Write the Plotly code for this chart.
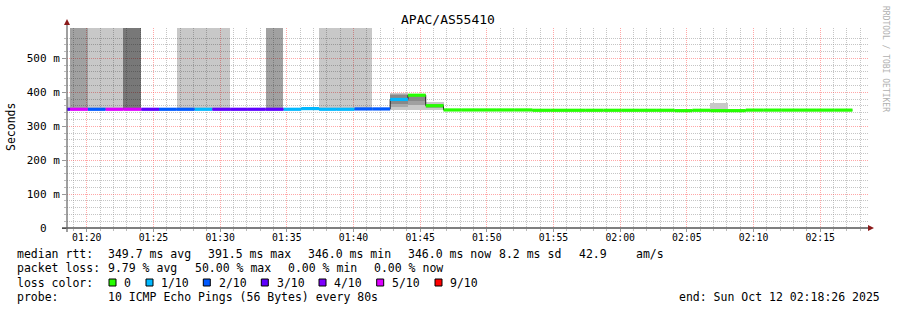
import plotly.graph_objects as go
import pandas as pd

# ---------------- data ----------------
STEP_S = 80                                   # probe interval (s)
FIRST_STEP = "2025-10-12 01:17:25"            # start of first (partial) step
X_RANGE = ["2025-10-12 01:18:31", "2025-10-12 02:18:35"]

# median rtt per 80 s step (ms)
median_ms = [350,                                    # partial step
             350, 350, 350, 350, 350, 350, 350, 350, 350, 350,
             350, 350, 350, 352, 350, 350, 351, 351, 379, 391.5,
             360.5, 348, 348, 348, 348, 348, 347, 347, 347, 347,
             347, 347, 347, 347, 346, 347, 346, 346, 347.5, 347.5,
             347.5, 347.5, 347.5, 347.5]
# lost pings (of 10) per step
loss_count = [3,
              5, 2, 5, 5, 3, 2, 2, 1, 3, 3,
              3, 3, 1, 1, 1, 1, 2, 2, 1, 0,
              0, 0, 0, 0, 0, 0, 0, 0, 0, 0,
              0, 0, 0, 0, 0, 0, 0, 0, 0, 0,
              0, 0, 0, 0]
# full-height loss smoke shade per step (0 none, 1 light, 2 medium, 3 dark)
loss_shade = [0,
              2, 1, 1, 3, 0, 0, 1, 1, 1, 0,
              0, 2, 0, 0, 1, 1, 1, 0, 0, 0,
              0, 0, 0, 0, 0, 0, 0, 0, 0, 0,
              0, 0, 0, 0, 0, 0, 0, 0, 0, 0,
              0, 0, 0, 0]
# ping smoke bands: step index, low (ms), high (ms), grey level
smoke_step = [0, 19, 19, 19, 20, 20, 20, 21, 21, 37]
smoke_lo = [350, 349, 358, 366, 349, 362, 375, 349, 355, 350]
smoke_hi = [385, 398, 396, 392, 394, 393, 392, 372, 366, 368]
smoke_grey = ["#cfcfcf", "#c8c8c8", "#a8a8a8", "#888888", "#c8c8c8", "#a0a0a0",
              "#888888", "#c8c8c8", "#a0a0a0", "#c8c8c8"]

loss_levels = [0, 1, 2, 3, 4, 5, 9]
loss_labels = ["0", "1/10", "2/10", "3/10", "4/10", "5/10", "9/10"]
loss_colors = ["#26ff00", "#00b8ff", "#0059ff", "#5e00ff", "#7e00ff", "#dd00ff", "#ff0000"]
shade_rgba = {1: "rgba(0,0,0,0.215)", 2: "rgba(0,0,0,0.37)", 3: "rgba(0,0,0,0.53)"}

y_tickvals = [0, 100, 200, 300, 400, 500]
y_ticktext = ["\u00a0\u00a00\u00a0\u00a0", "100 m", "200 m", "300 m", "400 m", "500 m"]
Y_MAX = 589.6

title = "APAC/AS55410"
stats_rtt = ["median rtt:", "349.7 ms avg", "391.5 ms max", "346.0 ms min",
             "346.0 ms now", "8.2 ms sd", "42.9", "am/s"]
stats_loss = ["packet loss:", "9.79 % avg", "50.00 % max", "0.00 % min", "0.00 % now"]
probe_text = ["probe:", "10 ICMP Echo Pings (56 Bytes) every 80s"]
end_text = "end: Sun Oct 12 02:18:26 2025"

# ---------------- figure ----------------
starts = pd.date_range(FIRST_STEP, periods=len(median_ms), freq=f"{STEP_S}s")
ends = starts + pd.Timedelta(seconds=STEP_S)

L, R, T, B = 67, 868, 28, 228
W, H = 897, 310
PW, PH = R - L, B - T
def px(x):
    return (x - L) / PW
def py(y):
    return (B - y) / PH

fig = go.Figure()
MONO = "DejaVu Sans Mono"

# full height loss smoke
for lvl in (1, 2, 3):
    idx = [i for i, s in enumerate(loss_shade) if s == lvl]
    if not idx:
        continue
    fig.add_trace(go.Bar(
        x=[starts[i] for i in idx], y=[Y_MAX * 2 - median_ms[i] for i in idx],
        base=[median_ms[i] for i in idx], width=STEP_S * 1000, offset=0,
        marker=dict(color=shade_rgba[lvl], line=dict(width=0)), showlegend=False,
        hoverinfo="skip"))

# ping smoke
for s, lo, hi, g in zip(smoke_step, smoke_lo, smoke_hi, smoke_grey):
    fig.add_trace(go.Bar(
        x=[starts[s]], y=[hi - lo], base=[lo], width=STEP_S * 1000, offset=0,
        marker=dict(color=g, line=dict(width=0)), showlegend=False, hoverinfo="skip"))

# black median step line
fig.add_trace(go.Scatter(
    x=list(starts) + [ends[-1]], y=median_ms + [median_ms[-1]],
    mode="lines", line=dict(color="#202020", width=1, shape="hv"),
    showlegend=False, hoverinfo="skip"))

# loss coloured median bands
for lvl, col in zip(loss_levels, loss_colors):
    xs, ys = [], []
    for i, (m, l) in enumerate(zip(median_ms, loss_count)):
        if l == lvl:
            xs += [starts[i], ends[i], None]
            ys += [m, m, None]
    if xs:
        fig.add_trace(go.Scatter(x=xs, y=ys, mode="lines",
                                 line=dict(color=col, width=3.2),
                                 showlegend=False, hoverinfo="skip"))

GRID_MINOR = "rgba(150,150,150,0.55)"
GRID_MAJOR = "rgba(255,80,80,0.5)"

fig.update_xaxes(
    type="date", range=X_RANGE, tick0="2025-10-12 01:20:00", dtick=300000,
    tickformat="%H:%M", showgrid=True, gridcolor=GRID_MAJOR, griddash="1px,1px",
    gridwidth=1, ticks="outside", ticklen=3, tickcolor="#999", ticklabelstandoff=-3,
    minor=dict(dtick=60000, showgrid=True, gridcolor=GRID_MINOR, griddash="1px,1px",
               ticks="outside", ticklen=2, tickcolor="#bbb"),
    showline=False, zeroline=False,
    tickfont=dict(family=MONO, size=9.8, color="#000"), fixedrange=True)
fig.update_yaxes(
    range=[0, Y_MAX], tickvals=y_tickvals, ticktext=y_ticktext,
    showgrid=True, gridcolor=GRID_MAJOR, griddash="1px,1px", gridwidth=1,
    ticks="outside", ticklen=4, tickcolor="#999",
    minor=dict(tickvals=[v for v in range(20, 580, 20) if v % 100], showgrid=True,
               gridcolor=GRID_MINOR, griddash="1px,1px", ticks="outside", ticklen=2,
               tickcolor="#bbb"),
    showline=False, zeroline=False,
    tickfont=dict(family=MONO, size=11, color="#000"), fixedrange=True)

shapes = []
# axes lines and arrows
shapes.append(dict(type="line", xref="paper", yref="paper", x0=px(62), x1=px(869),
                   y0=0, y1=0, line=dict(color="#000", width=1.2), layer="above"))
shapes.append(dict(type="line", xref="paper", yref="paper", x0=0, x1=0,
                   y0=py(232), y1=py(24), line=dict(color="#606060", width=1.2), layer="above"))
shapes.append(dict(type="path", xref="paper", yref="paper",
                   path=f"M {px(868)} {py(225)} L {px(874)} {py(228)} L {px(868)} {py(231)} Z",
                   fillcolor="#8b1a1a", line=dict(width=0), layer="above"))
shapes.append(dict(type="path", xref="paper", yref="paper",
                   path=f"M {px(64)} {py(25)} L {px(67)} {py(19)} L {px(70)} {py(25)} Z",
                   fillcolor="#8b1a1a", line=dict(width=0), layer="above"))

ann = []
def text(x, y, s, size=11.5, **kw):
    d = dict(x=px(x), y=py(y), xref="paper", yref="paper", text=s, showarrow=False,
             xanchor="left", yanchor="middle", font=dict(family=MONO, size=size, color="#000"),
             borderpad=0)
    d.update(kw)
    ann.append(d)

# title, axis title, watermark
text(448, 19, title, size=13, xanchor="center")
text(11, 127, "Seconds", size=11.5, xanchor="center", textangle=-90)
text(886, 59, "RRDTOOL / TOBI OETIKER", size=8, xanchor="center",
     textangle=90, font=dict(family=MONO, size=8, color="#b0b0b0"))

# legend
for s, x in zip(stats_rtt, [16, 107.3, 207.3, 307.3, 407.3, 498.3, 578.3, 635]):
    text(x, 254, s)
for s, x in zip(stats_loss, [16, 107.3, 194, 286.7, 372.7]):
    text(x, 268.3, s)
text(16, 282.7, "loss color:")
box_x = [109, 146, 203.3, 261.3, 319, 376.7, 435]
for bx, lab, col in zip(box_x, loss_labels, loss_colors):
    shapes.append(dict(type="rect", xref="paper", yref="paper",
                       x0=px(bx), x1=px(bx + 7), y0=py(286), y1=py(279),
                       fillcolor=col, line=dict(color="#000", width=1), layer="above"))
    text(bx + 14.3, 282.7, lab)
text(16, 296.7, probe_text[0])
text(107.3, 296.7, probe_text[1])
text(678.3, 296.7, end_text)

fig.update_layout(
    width=W, height=H, margin=dict(l=L, r=W - R, t=T, b=H - B),
    paper_bgcolor="#fff", plot_bgcolor="#fff", barmode="overlay", bargap=0,
    showlegend=False, shapes=shapes, annotations=ann)

fig.write_html("out.html")
